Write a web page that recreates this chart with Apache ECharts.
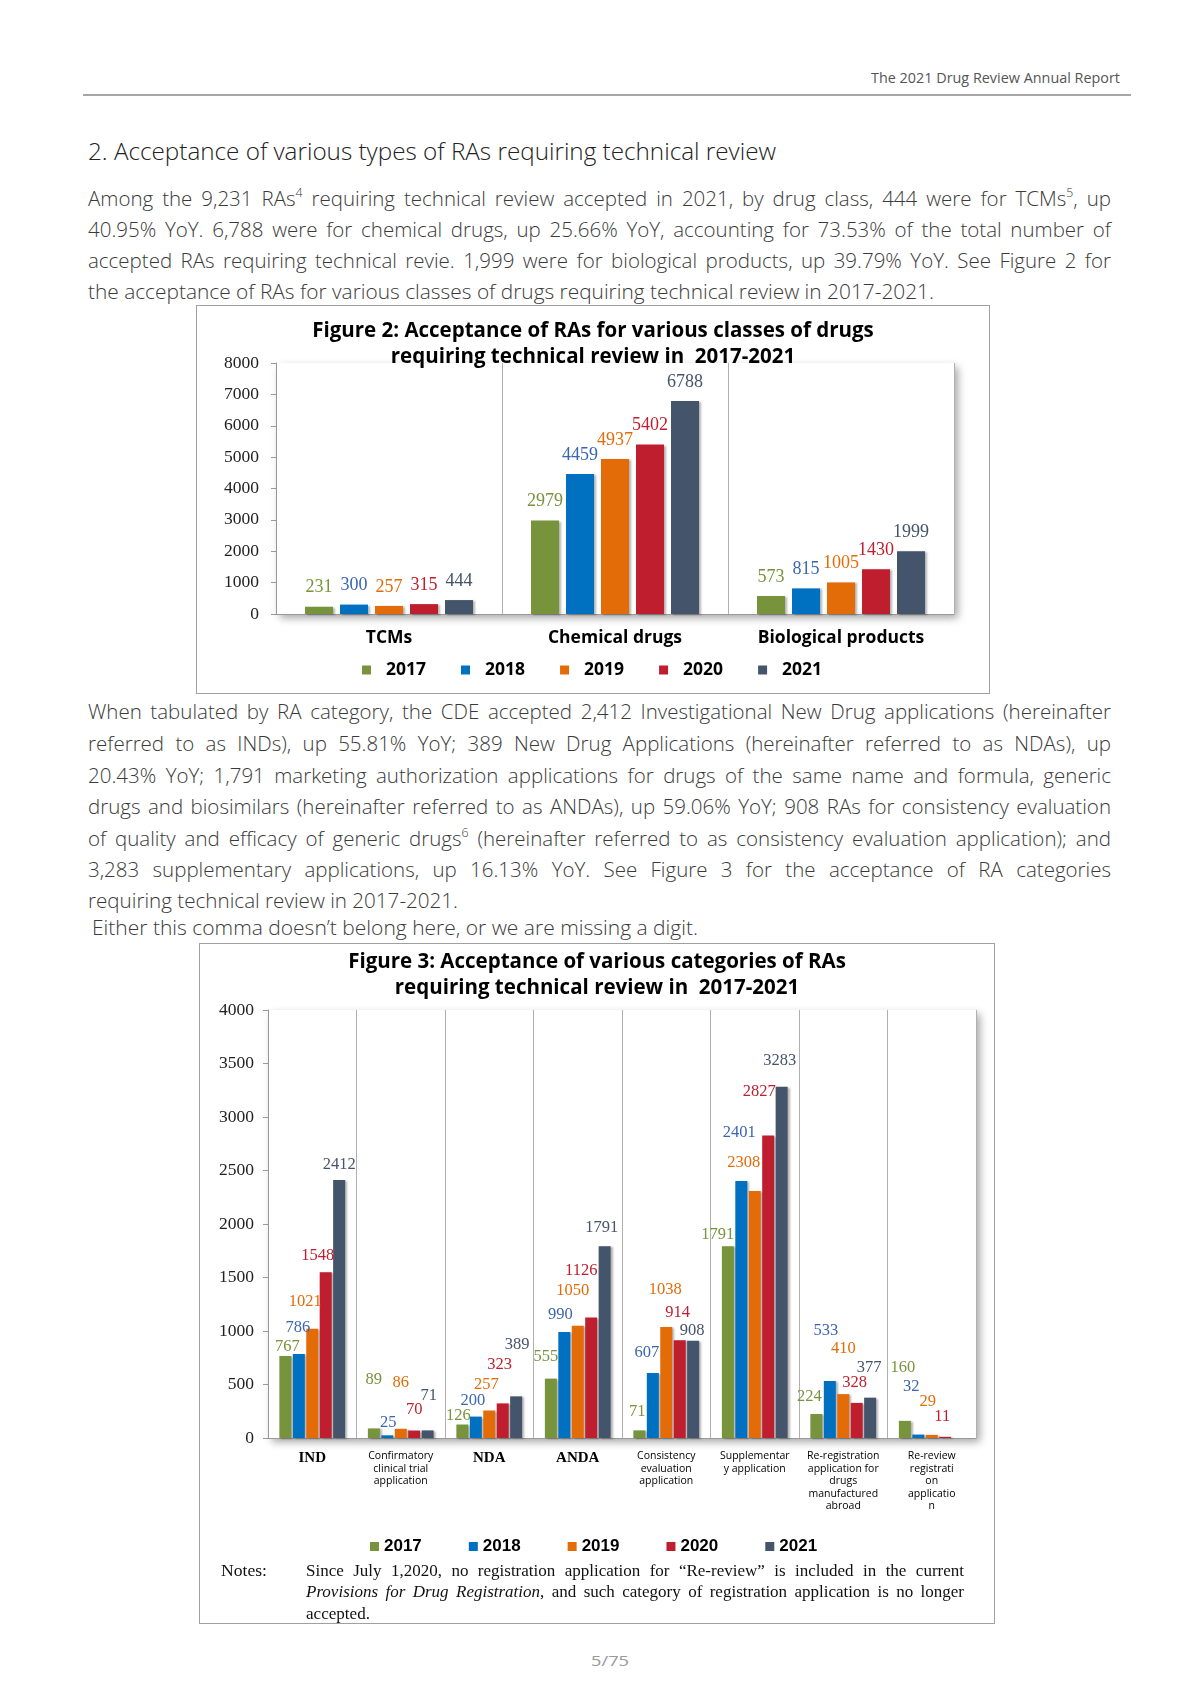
<!DOCTYPE html>
<html><head><meta charset="utf-8">
<script src="https://cdn.jsdelivr.net/npm/echarts@6/dist/echarts.min.js"></script>
<style>
body{margin:0;background:#fff;}
#page{position:relative;width:1190px;height:1683px;overflow:hidden;background:#fff;}
.ln{position:absolute;white-space:nowrap;transform-origin:0 50%;}
.body{font-family:'Open Sans';font-size:20.5px;color:#3a3a3a;font-weight:300;}
.head{font-family:'Open Sans';font-size:24px;color:#222;font-weight:300;}
.hdr{font-family:'Open Sans';font-size:14px;color:#555;}
.note{font-family:'Liberation Serif';font-size:17px;color:#111;}
.pg{font-family:'Open Sans';font-size:15px;color:#999;}
.frame{position:absolute;border:1.5px solid #a0a0a0;box-sizing:border-box;pointer-events:none;}
.chart{position:absolute;}
sup{font-size:0.6em;line-height:0;vertical-align:0.7em;}
</style></head>
<body><div id="page">
<div style="position:absolute;left:83px;top:93.5px;width:1048px;height:2px;background:#a6a6a6"></div>
<div class="chart" id="c2" style="left:196px;top:305px;width:794px;height:389px;"></div>
<div class="frame" style="left:196px;top:305px;width:794px;height:389px;"></div>
<div class="chart" id="c3" style="left:199px;top:943px;width:796px;height:681px;"></div>
<div class="frame" style="left:199px;top:943px;width:796px;height:681px;"></div>
</div>
<script>
// ---------- data ----------
const years = ['2017', '2018', '2019', '2020', '2021'];
const seriesColors = ['#77933C', '#0070C0', '#E36C09', '#BE1E2D', '#44546A'];
const labelColors = ['#77933C', '#3A66B0', '#E36C09', '#BE1E2D', '#44546A'];

const fig2Categories = ['TCMs', 'Chemical drugs', 'Biological products'];
const fig2Values2017 = [231, 2979, 573];
const fig2Values2018 = [300, 4459, 815];
const fig2Values2019 = [257, 4937, 1005];
const fig2Values2020 = [315, 5402, 1430];
const fig2Values2021 = [444, 6788, 1999];
const fig2YMax = 8000, fig2YStep = 1000;

const fig3Categories = ['IND', 'Confirmatory clinical trial application', 'NDA', 'ANDA',
  'Consistency evaluation application', 'Supplementary application',
  'Re-registration application for drugs manufactured abroad', 'Re-review registration application'];
const fig3TickLabels = ['IND', 'Confirmatory\nclinical trial\napplication', 'NDA', 'ANDA',
  'Consistency\nevaluation\napplication', 'Supplementar\ny application',
  'Re-registration\napplication for\ndrugs\nmanufactured\nabroad', 'Re-review\nregistrati\non\napplicatio\nn'];
const fig3Values2017 = [767, 89, 126, 555, 71, 1791, 224, 160];
const fig3Values2018 = [786, 25, 200, 990, 607, 2401, 533, 32];
const fig3Values2019 = [1021, 86, 257, 1050, 1038, 2308, 410, 29];
const fig3Values2020 = [1548, 70, 323, 1126, 914, 2827, 328, 11];
const fig3Values2021 = [2412, 71, 389, 1791, 908, 3283, 377, null];
const fig3YMax = 4000, fig3YStep = 500;

// label placement styling for Figure 3 (label centre height above bar top, horizontal shift), px
const fig3LabelLift = [
  [9, 49, 9, 22, 18, 11, 17, 53],
  [26, 12, 16, 17, 20, 48, 50, 48],
  [27, 46, 26, 35, 37, 28, 45, 33],
  [16, 21, 39, 47, 27, 44, 20, 20],
  [15, 34, 51, 18, 10, 26, 30, 0]
];
const fig3LabelShift = [
  [2, 0, -4, -5, -2, -10, -7, -2],
  [-1, 1, -3, -4, -6, -2, -4, -7],
  [-7, 0, -3, -5, -1, -11, 0, -4],
  [-8, 0, -3, -10, -2, -9, -2, -3],
  [0, 1, 1, -3, -1, -2, -1, 0]
];

// ---------- page text ----------
const page = document.getElementById('page');
function line(html, x, yc, w, mode, cls) {
  const d = document.createElement('div');
  d.className = 'ln ' + cls;
  d.innerHTML = html;
  d.style.left = x + 'px';
  page.appendChild(d);
  const h = d.offsetHeight;
  d.style.top = (yc - h / 2) + 'px';
  const nat = d.getBoundingClientRect().width;
  if (mode === 'j' && nat < w) {
    const n = (d.textContent.match(/ /g) || []).length;
    if (n) d.style.wordSpacing = ((w - nat) / n) + 'px';
  } else {
    d.style.transform = 'scaleX(' + (w / nat) + ')';
  }
}
line('The 2021 Drug Review Annual Report', 871, 77, 249, 'l', 'hdr');
line('2. Acceptance of various types of RAs requiring technical review', 88, 150, 688, 'l', 'head');
const p1 = [
  'Among the 9,231 RAs<sup>4</sup> requiring technical review accepted in 2021, by drug class, 444 were for TCMs<sup>5</sup>, up',
  '40.95% YoY. 6,788 were for chemical drugs, up 25.66% YoY, accounting for 73.53% of the total number of',
  'accepted RAs requiring technical revie. 1,999 were for biological products, up 39.79% YoY. See Figure 2 for'
];
const p1y = [198, 229, 260];
p1.forEach((t, i) => line(t, 88, p1y[i], 1023, 'j', 'body'));
line('the acceptance of RAs for various classes of drugs requiring technical review in 2017-2021.', 88, 291, 846, 'l', 'body');
const p2 = [
  'When tabulated by RA category, the CDE accepted 2,412 Investigational New Drug applications (hereinafter',
  'referred to as INDs), up 55.81% YoY; 389 New Drug Applications (hereinafter referred to as NDAs), up',
  '20.43% YoY; 1,791 marketing authorization applications for drugs of the same name and formula, generic',
  'drugs and biosimilars (hereinafter referred to as ANDAs), up 59.06% YoY; 908 RAs for consistency evaluation',
  'of quality and efficacy of generic drugs<sup>6</sup> (hereinafter referred to as consistency evaluation application); and',
  '3,283 supplementary applications, up 16.13% YoY. See Figure 3 for the acceptance of RA categories'
];
const p2y = [711, 742.5, 775, 806, 838, 869];
p2.forEach((t, i) => line(t, 88, p2y[i], 1023, 'j', 'body'));
line('requiring technical review in 2017-2021.', 88, 900, 370, 'l', 'body');
line('Either this comma doesn\u2019t belong here, or we are missing a digit.', 92, 927, 606, 'l', 'body');
line('Notes:', 221, 1571, 46, 'l', 'note');
line('Since July 1,2020, no registration application for \u201cRe-review\u201d is included in the current', 306, 1571, 658, 'j', 'note');
line('<i>Provisions for Drug Registration</i>, and such category of registration application is no longer', 306, 1592, 658, 'j', 'note');
line('accepted.', 306, 1614, 64, 'l', 'note');
line('5/75', 591, 1660, 38, 'l', 'pg');

// ---------- charts ----------
const titleStyle = {fontFamily: 'Open Sans', fontWeight: 'bold', fontSize: 20.5, lineHeight: 26, color: '#000'};
const noComma = v => String(v);
const gridShadow = {show: true, borderWidth: 0, backgroundColor: '#fff',
  shadowColor: 'rgba(0,0,0,0.35)', shadowBlur: 8, shadowOffsetX: 4, shadowOffsetY: 4, outerBoundsMode: 'none'};
const barShadow = {shadowColor: 'rgba(0,0,0,0.3)', shadowBlur: 2, shadowOffsetX: 2, shadowOffsetY: 1};

const c2 = echarts.init(document.getElementById('c2'));
c2.setOption({
  animation: false,
  title: {text: 'Figure 2: Acceptance of RAs for various classes of drugs\nrequiring technical review in  2017-2021',
    left: 'center', top: 8, textStyle: titleStyle},
  legend: {data: years, icon: 'rect', itemWidth: 9, itemHeight: 9, itemGap: 35, left: 166, top: 356, padding: 0,
    textStyle: {fontFamily: 'Open Sans', fontWeight: 'bold', fontSize: 17.5, color: '#000', padding: [0, 0, 0, 10]}},
  grid: Object.assign({left: 80, right: 36, top: 58, bottom: 80}, gridShadow),
  xAxis: {type: 'category', data: fig2Categories,
    axisLine: {lineStyle: {color: '#999'}}, axisTick: {show: false},
    splitLine: {show: true, lineStyle: {color: '#b0b0b0'}},
    axisLabel: {fontFamily: 'Open Sans', fontWeight: 'bold', fontSize: 17.5, color: '#000', margin: 15}},
  yAxis: {type: 'value', min: 0, max: fig2YMax, interval: fig2YStep,
    axisLine: {show: true, lineStyle: {color: '#999'}}, axisTick: {show: true, length: 5, lineStyle: {color: '#999'}},
    splitLine: {show: false},
    axisLabel: {fontFamily: 'Liberation Serif', fontSize: 17.5, color: '#222', margin: 17, formatter: noComma}},
  series: [fig2Values2017, fig2Values2018, fig2Values2019, fig2Values2020, fig2Values2021].map((data, i) => ({
    type: 'bar', name: years[i], data: data, barWidth: 28, barGap: '25%',
    itemStyle: Object.assign({color: seriesColors[i]}, barShadow),
    label: {show: true, position: 'top', distance: 10, color: labelColors[i],
      fontFamily: 'Liberation Serif', fontSize: 18}
  }))
});

const boldCats = {'IND': 1, 'NDA': 1, 'ANDA': 1};
const fig3Font = 16.5;
const c3 = echarts.init(document.getElementById('c3'));
c3.setOption({
  animation: false,
  title: {text: 'Figure 3: Acceptance of various categories of RAs\nrequiring technical review in  2017-2021',
    left: 'center', top: 1, textStyle: titleStyle},
  legend: {data: years, icon: 'rect', itemWidth: 9, itemHeight: 9, itemGap: 47, left: 171, top: 595, padding: 0,
    textStyle: {fontFamily: 'Liberation Sans', fontWeight: 'bold', fontSize: 17, color: '#000'}},
  grid: Object.assign({left: 69, right: 19, top: 67, bottom: 186}, gridShadow),
  xAxis: {type: 'category', data: fig3Categories,
    axisLine: {lineStyle: {color: '#999'}}, axisTick: {show: false},
    splitLine: {show: true, interval: 0, lineStyle: {color: '#b0b0b0'}},
    axisLabel: {interval: 0, margin: 12,
      formatter: function (v, idx) {
        const t = fig3TickLabels[idx];
        if (boldCats[t]) return '{b|' + t + '}';
        return t.split('\n').map(s => '{s|' + s + '}').join('\n');
      },
      rich: {
        b: {fontFamily: 'Liberation Serif', fontWeight: 'bold', fontSize: 15, color: '#000', lineHeight: 16},
        s: {fontFamily: 'Open Sans', fontSize: 10.5, color: '#000', lineHeight: 12.5}
      }}},
  yAxis: {type: 'value', min: 0, max: fig3YMax, interval: fig3YStep,
    axisLine: {show: true, lineStyle: {color: '#999'}}, axisTick: {show: true, length: 5, lineStyle: {color: '#999'}},
    splitLine: {show: false},
    axisLabel: {fontFamily: 'Liberation Serif', fontSize: 17.5, color: '#222', margin: 14, formatter: noComma}},
  series: [fig3Values2017, fig3Values2018, fig3Values2019, fig3Values2020, fig3Values2021].map((data, i) => ({
    type: 'bar', name: years[i], barWidth: 12, barGap: '12%',
    data: data.map((v, j) => ({value: v,
      label: {offset: [fig3LabelShift[i][j], -(fig3LabelLift[i][j] - fig3Font / 2)]}})),
    itemStyle: Object.assign({color: seriesColors[i]}, barShadow),
    label: {show: true, position: 'top', distance: 0, color: labelColors[i],
      fontFamily: 'Liberation Serif', fontSize: fig3Font}
  }))
});
</script>
</body></html>
